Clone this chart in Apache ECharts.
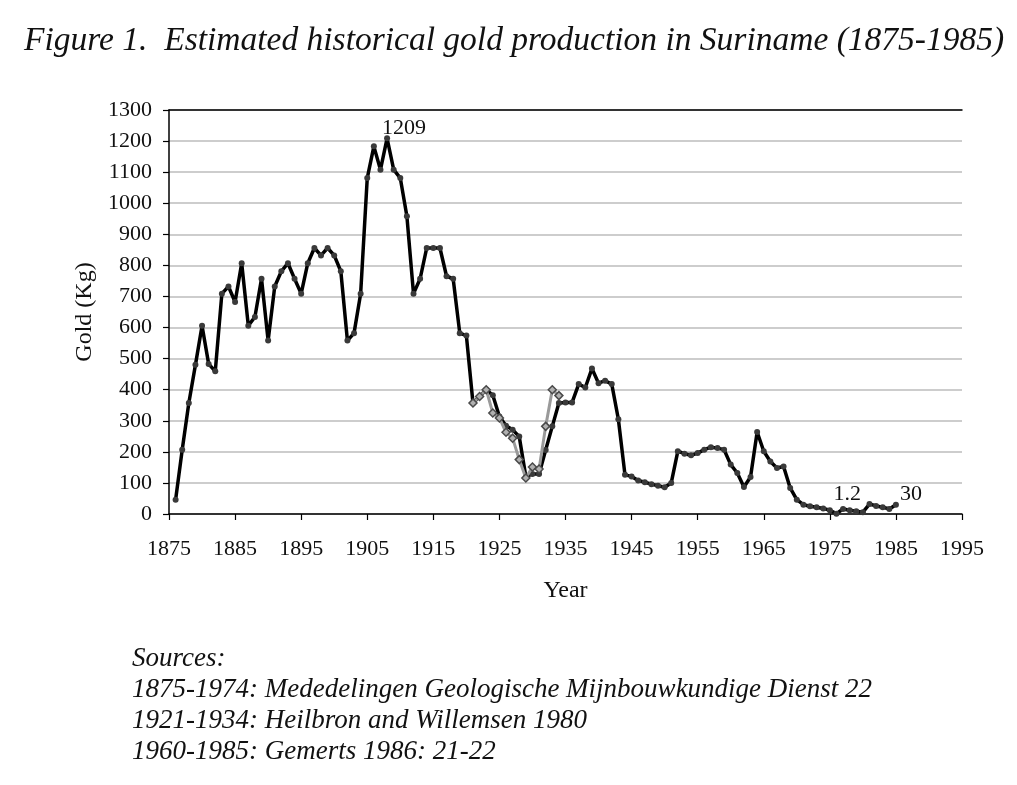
<!DOCTYPE html>
<html>
<head>
<meta charset="utf-8">
<script src="https://cdn.jsdelivr.net/npm/echarts@6/dist/echarts.min.js"></script>
<style>
html,body{margin:0;padding:0;background:#fff;}
#chart{width:1017px;height:785px;}
</style>
</head>
<body>
<div id="chart"></div>
<script>
// ---- data ----
const years = [];
for (let y = 1876; y <= 1985; y++) years.push(y);
const goldMain = [
  46, 207, 357, 480, 606, 483, 459, 709, 732, 682,        // 1876-1885
  807, 606, 634, 757, 558, 732, 781, 807, 757, 709,       // 1886-1895
  807, 856, 832, 856, 832, 781, 558, 582, 709, 1081,      // 1896-1905
  1183, 1108, 1209, 1108, 1081, 958, 709, 757, 856, 856,  // 1906-1915
  856, 765, 757, 582, 574, 357, 378, 400, 382, 314,       // 1916-1925
  284, 271, 249, 120, 129, 129, 206, 282, 357, 359,       // 1926-1935
  359, 418, 407, 468, 421, 429, 418, 305, 126, 121,       // 1936-1945
  108, 102, 96, 91, 86, 100, 202, 194, 189, 196,          // 1946-1955
  207, 215, 212, 207, 159, 132, 87, 119, 264, 202,        // 1956-1965
  169, 148, 153, 84, 46, 30, 25, 22, 18, 12,              // 1966-1975
  1.2, 16, 12, 9, 6, 32, 26, 22, 16, 30                   // 1976-1985
];
const heilbronYears = [1921,1922,1923,1924,1925,1926,1927,1928,1929,1930,1931,1932,1933,1934];
const heilbronGold = [357, 378, 400, 325, 309, 263, 244, 175, 116, 151, 145, 282, 400, 381];
const labelledYears = [1908, 1976, 1985];
const xTicks = {min: 1875, max: 1995, interval: 10};
const yTicks = {min: 0, max: 1300, interval: 100};

// ---- styles ----
const serif = '"Liberation Serif","Times New Roman",serif';
const labelOffsets = {1908: [-8, -10], 1976: [-6, -19], 1985: [1, -10]};

const mainData = years.map((y, i) => {
  const item = {value: [y, goldMain[i]]};
  if (labelledYears.indexOf(y) >= 0) {
    item.label = {
      show: true, position: 'right', distance: 0, offset: labelOffsets[y],
      formatter: p => String(p.value[1]),
      fontFamily: serif, fontSize: 22, color: '#111'
    };
  }
  return item;
});
const grayData = heilbronYears.map((y, i) => [y, heilbronGold[i]]);

const chart = echarts.init(document.getElementById('chart'), null, {renderer: 'canvas'});
chart.setOption({
  animation: false,
  backgroundColor: '#fff',
  textStyle: {fontFamily: serif},
  grid: {left: 169, right: 55, top: 110, bottom: 271, containLabel: false},
  graphic: [
    {type: 'text', left: 24, top: 24, style: {text: 'Figure 1.  Estimated historical gold production in Suriname (1875-1985)', font: 'italic 33.5px ' + serif, fill: '#111'}},
    {type: 'text', left: 132, top: 645, style: {text: 'Sources:', font: 'italic 27px ' + serif, fill: '#111'}},
    {type: 'text', left: 132, top: 676, style: {text: '1875-1974: Mededelingen Geologische Mijnbouwkundige Dienst 22', font: 'italic 27px ' + serif, fill: '#111'}},
    {type: 'text', left: 132, top: 707, style: {text: '1921-1934: Heilbron and Willemsen 1980', font: 'italic 27px ' + serif, fill: '#111'}},
    {type: 'text', left: 132, top: 738, style: {text: '1960-1985: Gemerts 1986: 21-22', font: 'italic 27px ' + serif, fill: '#111'}}
  ],
  xAxis: [{
    type: 'value', min: xTicks.min, max: xTicks.max, interval: xTicks.interval,
    name: 'Year', nameLocation: 'middle', nameGap: 65,
    nameTextStyle: {fontFamily: serif, fontSize: 24, color: '#111'},
    axisLine: {show: true, lineStyle: {color: '#000', width: 1.5}},
    axisTick: {show: true, inside: false, length: 6, lineStyle: {color: '#000', width: 1.2}},
    axisLabel: {fontFamily: serif, fontSize: 22, color: '#111', margin: 24, formatter: v => String(v)},
    splitLine: {show: false}
  }, {
    type: 'value', position: 'top', min: xTicks.min, max: xTicks.max,
    axisLine: {show: true, lineStyle: {color: '#000', width: 1.5}},
    axisTick: {show: false}, axisLabel: {show: false}, splitLine: {show: false}
  }],
  yAxis: {
    type: 'value', min: yTicks.min, max: yTicks.max, interval: yTicks.interval,
    name: 'Gold (Kg)', nameLocation: 'middle', nameGap: 72, nameRotate: 90,
    nameTextStyle: {fontFamily: serif, fontSize: 24, color: '#111'},
    axisLine: {show: true, lineStyle: {color: '#000', width: 1.5}},
    axisTick: {show: true, inside: false, length: 6, lineStyle: {color: '#000', width: 1.2}},
    axisLabel: {fontFamily: serif, fontSize: 22, color: '#111', margin: 17, formatter: v => String(v)},
    splitLine: {show: true, lineStyle: {color: '#bdbdbd', width: 1.5}}
  },
  series: [{
    type: 'line', name: 'main', data: mainData, xAxisIndex: 0,
    symbol: 'circle', symbolSize: 6, showAllSymbol: true,
    lineStyle: {color: '#000', width: 3.5, join: 'round'},
    itemStyle: {color: '#3a3a3a', borderWidth: 0},
    z: 2
  }, {
    type: 'line', name: 'heilbron', data: grayData, xAxisIndex: 0,
    symbol: 'diamond', symbolSize: 8, showAllSymbol: true,
    lineStyle: {color: '#9a9a9a', width: 3},
    itemStyle: {color: '#b0b0b0', borderColor: '#4a4a4a', borderWidth: 1.5},
    z: 3
  }]
});
</script>
</body>
</html>
